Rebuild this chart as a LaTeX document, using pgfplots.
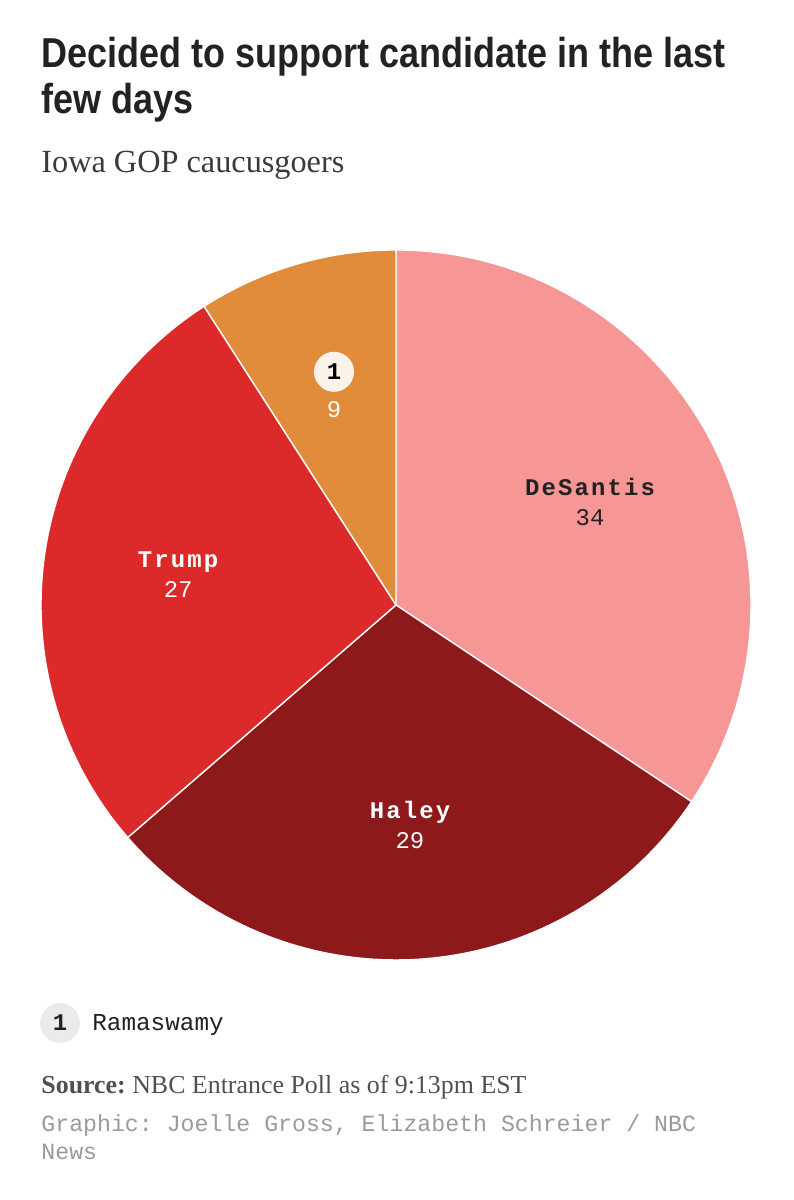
\documentclass[border=0pt]{standalone}
\usepackage{pgfplots}
\pgfplotsset{compat=1.18}
\usepackage{pgfplotstable}
\usepackage{fontspec}
\setmainfont{Liberation Serif}
\newfontfamily\titlefont{Liberation Sans}[FakeStretch=0.86]
\newfontfamily\monofont{Liberation Mono}
\newfontfamily\monowide{Liberation Mono}[LetterSpace=9]
\frenchspacing

\definecolor{desantis}{HTML}{F69796}
\definecolor{haley}{HTML}{8E191B}
\definecolor{trump}{HTML}{DC2A2B}
\definecolor{rama}{HTML}{E08C3A}
\definecolor{cream}{HTML}{FBF3EA}
\definecolor{ink}{HTML}{222222}
\definecolor{subtitle}{HTML}{3A3A3A}
\definecolor{notegray}{HTML}{505050}
\definecolor{credit}{HTML}{9A9A9A}
\definecolor{legendbg}{HTML}{EBEBEB}

% share of caucusgoers, clockwise from 12 o'clock
\pgfplotstableread{
name value fill txt note
DeSantis 34 desantis ink 0
Haley 29 haley white 0
Trump 27 trump white 0
Ramaswamy 9 rama white 1
}\pietable

\def\pieR{177.5bp}
\tikzset{
  slname/.style={anchor=base, inner sep=0, font=\monowide\bfseries\fontsize{12}{14}\selectfont},
  slnum/.style={anchor=base, inner sep=0, font=\monofont\fontsize{12}{14}\selectfont},
  slnote/.style={circle, fill=cream, minimum size=20bp, inner sep=0, text=black,
    font=\monofont\bfseries\fontsize{12}{14}\selectfont},
}

% build the wedge and label commands from the table
\pgfplotstablegetrowsof{\pietable}
\pgfmathtruncatemacro\slLast{\pgfplotsretval-1}
\def\slTotal{0}
\foreach \slI in {0,...,\slLast}{%
  \pgfplotstablegetelem{\slI}{value}\of\pietable
  \pgfmathsetmacro\slNew{\slTotal+\pgfplotsretval}%
  \global\let\slTotal\slNew
}
\def\slCum{0}
\gdef\slAll{}
\foreach \slI in {0,...,\slLast}{%
  \pgfplotstablegetelem{\slI}{name}\of\pietable \let\slName\pgfplotsretval
  \pgfplotstablegetelem{\slI}{value}\of\pietable \let\slVal\pgfplotsretval
  \pgfplotstablegetelem{\slI}{fill}\of\pietable \let\slFill\pgfplotsretval
  \pgfplotstablegetelem{\slI}{txt}\of\pietable \let\slTxt\pgfplotsretval
  \pgfplotstablegetelem{\slI}{note}\of\pietable \let\slNote\pgfplotsretval
  \pgfmathsetmacro\slA{90-\slCum/\slTotal*360}%
  \pgfmathsetmacro\slB{90-(\slCum+\slVal)/\slTotal*360}%
  \pgfmathsetmacro\slM{(\slA+\slB)/2}%
  \pgfmathsetmacro\slX{0.62*cos(\slM)}%
  \pgfmathsetmacro\slY{0.62*sin(\slM)}%
  \pgfmathsetmacro\slAX{cos(\slA)}%
  \pgfmathsetmacro\slAY{sin(\slA)}%
  \ifnum\slNote=1
    \edef\slLab{\noexpand\node[slnote, yshift=11bp] at (axis cs:\slX,\slY) {1};}%
  \else
    \edef\slLab{\noexpand\node[slname, text=\slTxt, yshift=3bp] at (axis cs:\slX,\slY) {\slName};}%
  \fi
  \xdef\slAll{\expandafter\unexpanded\expandafter{\slAll}
    \noexpand\fill[\slFill, draw=white, line width=0.7bp, line join=round]
      (axis cs:0,0) -- (axis cs:\slAX,\slAY)
      arc[start angle=\slA, end angle=\slB, radius=\noexpand\pieR] -- cycle;
    \noexpand\node[slnum, text=\slTxt, yshift=-12bp] at (axis cs:\slX,\slY) {\slVal};
    \expandafter\unexpanded\expandafter{\slLab}}%
  \pgfmathsetmacro\slNew{\slCum+\slVal}%
  \global\let\slCum\slNew
}

\begin{document}
\begin{tikzpicture}[x=0.5bp, y=0.5bp]
\path (0,0) rectangle (793,1200);

\node[anchor=base west, inner sep=0, text=ink, font=\titlefont\bfseries\fontsize{21}{23}\selectfont]
  at (41,1132) {Decided to support candidate in the last};
\node[anchor=base west, inner sep=0, text=ink, font=\titlefont\bfseries\fontsize{21}{23}\selectfont]
  at (41,1086) {few days};
\node[anchor=base west, inner sep=0, text=subtitle, font=\fontsize{16.2}{18}\selectfont]
  at (41,1027) {Iowa GOP caucusgoers};

\begin{axis}[
  at={(198bp,297.5bp)}, anchor=center,
  hide axis, scale only axis,
  width=355bp, height=355bp,
  xmin=-1, xmax=1, ymin=-1, ymax=1,
  clip=false,
]
\addplot[draw=none] coordinates {(0,0)};
\slAll
\end{axis}

% footnote legend
\fill[legendbg] (60,177) circle[radius=20];
\node[inner sep=0, text=ink, font=\monofont\bfseries\fontsize{12}{14}\selectfont] at (60,177) {1};
\node[anchor=base west, inner sep=0, text=ink, font=\monofont\fontsize{12.2}{14}\selectfont]
  at (92,169) {Ramaswamy};

\node[anchor=base west, inner sep=0, text=notegray, font=\fontsize{13}{15}\selectfont]
  at (41,106) {\textbf{Source:} NBC Entrance Poll as of 9:13pm EST};
\node[anchor=base west, inner sep=0, text=credit, font=\monofont\fontsize{11.65}{14}\selectfont]
  at (41,68) {Graphic: Joelle Gross, Elizabeth Schreier / NBC};
\node[anchor=base west, inner sep=0, text=credit, font=\monofont\fontsize{11.65}{14}\selectfont]
  at (41,40) {News};
\end{tikzpicture}
\end{document}
